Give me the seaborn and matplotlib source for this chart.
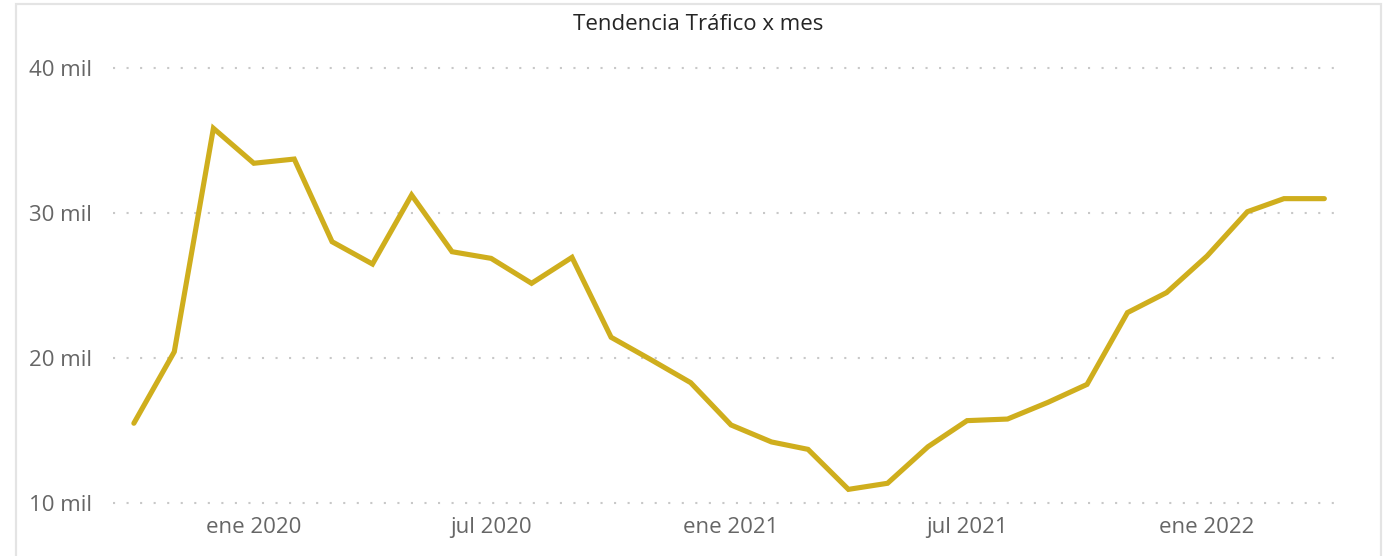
# Monthly traffic trend line chart (Power BI style)

import pandas as pd
import seaborn as sns
import matplotlib.pyplot as plt
from matplotlib.patches import Rectangle


# monthly traffic values in thousands, oct 2019 - apr 2022
months = pd.date_range("2019-10-01", periods=31, freq="MS")
traffic_k = [15.50, 20.43, 35.84, 33.43, 33.72, 28.02, 26.48, 31.24, 27.33, 26.87,
             25.15, 26.94, 21.43, 19.86, 18.30, 15.38, 14.21, 13.70, 10.94, 11.36,
             13.88, 15.68, 15.79, 16.94, 18.18, 23.13, 24.51, 27.03, 30.09, 30.99,
             30.99]

y_ticks = [10000, 20000, 30000, 40000]
y_labels = ["10 mil", "20 mil", "30 mil", "40 mil"]
x_ticks = ["2020-01-01", "2020-07-01", "2021-01-01", "2021-07-01", "2022-01-01"]
x_labels = ["ene 2020", "jul 2020", "ene 2021", "jul 2021", "ene 2022"]
title = "Tendencia Tráfico x mes"

df = pd.DataFrame({"mes": months, "trafico": [v * 1000 for v in traffic_k]})

sns.set_theme(style="white")
plt.rcParams['font.family'] = ['Open Sans', 'DejaVu Sans']

W, H = 1387, 556
fig = plt.figure(figsize=(W / 100, H / 100), dpi=100)
ax = fig.add_axes([113 / W, 1 - 503 / H, (1340 - 113) / W, (503 - 68) / H])

sns.lineplot(data=df, x="mes", y="trafico", ax=ax, color="#CFAE1D",
             linewidth=3.7, solid_capstyle="round", solid_joinstyle="miter")

ax.set_ylim(10000, 40000)
ax.set_xlim(pd.Timestamp("2019-09-15"), pd.Timestamp("2022-04-13"))
ax.set_yticks(y_ticks)
ax.set_yticklabels(y_labels)
ax.set_xticks(pd.to_datetime(x_ticks))
ax.set_xticklabels(x_labels)
ax.tick_params(axis="both", length=0, labelsize=16, labelcolor="#666666")
ax.tick_params(axis="y", pad=15)
ax.tick_params(axis="x", pad=10)
ax.set_xlabel("")
ax.set_ylabel("")
for s in ax.spines.values():
    s.set_visible(False)

# dotted horizontal gridlines
for t in y_ticks:
    ax.axhline(t, color="#c8c8c8", linewidth=1.5, linestyle=(0, (1, 5.5)), zorder=0)
for line in ax.lines:
    line.set_clip_on(False)

fig.text(698 / W, 1 - 24 / H, title, ha="center", va="center",
         fontsize=16, color="#252525")

# outer card border
fig.patches.append(Rectangle((16 / W, -0.1), (1381 - 16) / W, 1.1 - 4 / H,
                             transform=fig.transFigure, fill=False,
                             edgecolor="#e4e4e4", linewidth=1.6))

plt.savefig("out.png", dpi=100)
plt.close()
